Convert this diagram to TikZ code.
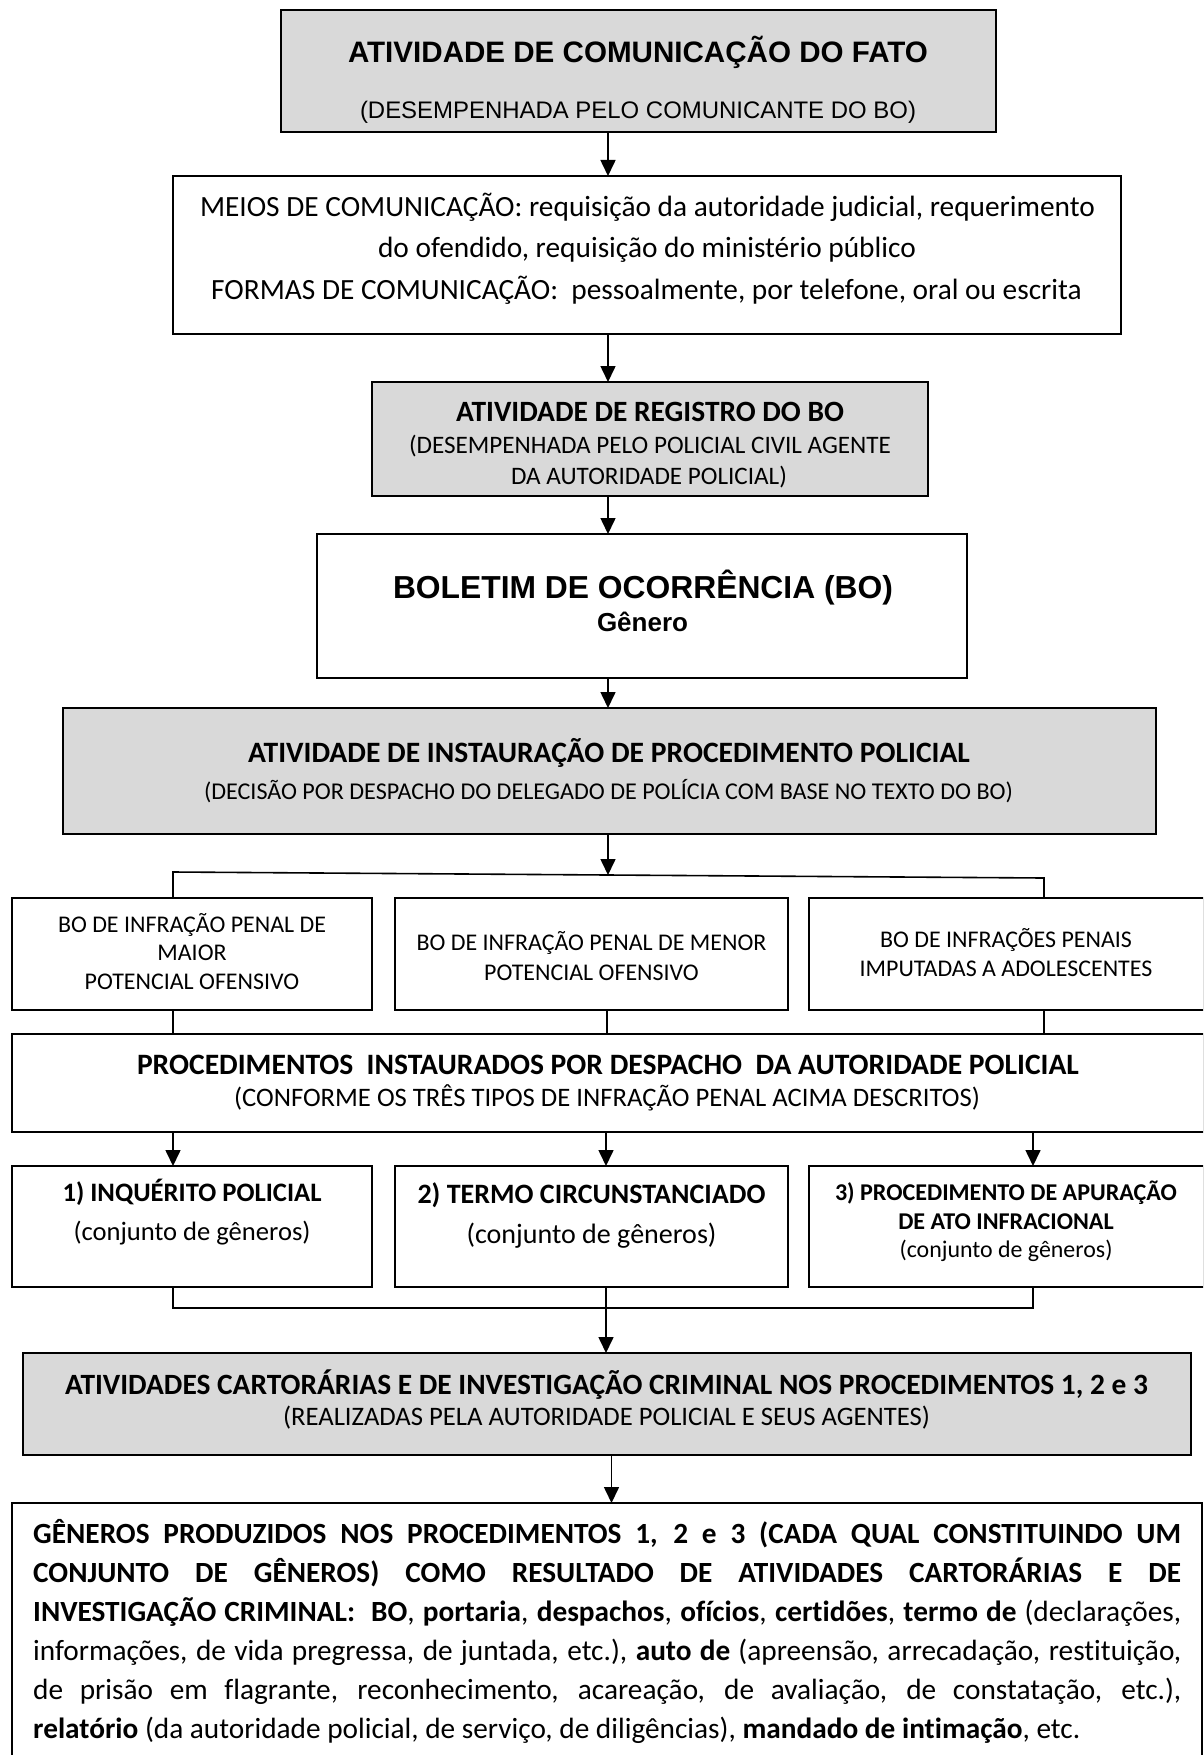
\documentclass[tikz,border=0pt]{standalone}
\usepackage{fontspec}
\setmainfont{Carlito}[RawFeature={-liga}]
\newfontfamily\arialfont{Liberation Sans}[RawFeature={-liga}]
\usetikzlibrary{arrows.meta}
\definecolor{boxgray}{RGB}{217,217,217}

% \sizefor{\name}{width}{font switches}{text}:
% stores in \name the font size (pt) at which the text is set over the given width
\newlength\measuredw
\newcommand\sizefor[4]{%
  \settowidth\measuredw{\fontsize{10pt}{12pt}\selectfont#3#4}%
  \pgfmathsetmacro#1{10*#2/\measuredw}%
  \global\let#1#1}
\newcommand\atsize[1]{\fontsize{#1pt}{#1pt}\selectfont}

\begin{document}
% font sizes from the widths of the printed lines
\sizefor\fzA{580}{\arialfont\bfseries}{ATIVIDADE DE COMUNICAÇÃO DO FATO}
\sizefor\fzB{556}{\arialfont}{(DESEMPENHADA PELO COMUNICANTE DO BO)}
\sizefor\fzC{895}{}{MEIOS DE COMUNICAÇÃO: requisição da autoridade judicial, requerimento}
\sizefor\fzD{388}{\bfseries}{ATIVIDADE DE REGISTRO DO BO}
\sizefor\fzE{482}{}{(DESEMPENHADA PELO POLICIAL CIVIL AGENTE}
\sizefor\fzF{500}{\arialfont\bfseries}{BOLETIM DE OCORRÊNCIA (BO)}
\sizefor\fzFF{91}{\arialfont\bfseries}{Gênero}
\sizefor\fzG{722}{\bfseries}{ATIVIDADE DE INSTAURAÇÃO DE PROCEDIMENTO POLICIAL}
\sizefor\fzH{809}{}{(DECISÃO POR DESPACHO DO DELEGADO DE POLÍCIA COM BASE NO TEXTO DO BO)}
\sizefor\fzI{268}{}{BO DE INFRAÇÃO PENAL DE}
\sizefor\fzJ{942}{\bfseries}{PROCEDIMENTOS\ \ INSTAURADOS POR DESPACHO\ \ DA AUTORIDADE POLICIAL}
\sizefor\fzK{746}{}{(CONFORME OS TRÊS TIPOS DE INFRAÇÃO PENAL ACIMA DESCRITOS)}
\sizefor\fzL{259}{\bfseries}{1) INQUÉRITO POLICIAL}
\sizefor\fzM{237}{}{(conjunto de gêneros)}
\sizefor\fzN{348}{\bfseries}{2) TERMO CIRCUNSTANCIADO}
\sizefor\fzO{250}{}{(conjunto de gêneros)}
\sizefor\fzP{342}{\bfseries}{3) PROCEDIMENTO DE APURAÇÃO}
\sizefor\fzQ{213}{}{(conjunto de gêneros)}
\sizefor\fzR{1083}{\bfseries}{ATIVIDADES CARTORÁRIAS E DE INVESTIGAÇÃO CRIMINAL NOS PROCEDIMENTOS 1, 2 e 3}
\sizefor\fzS{647}{}{(REALIZADAS PELA AUTORIDADE POLICIAL E SEUS AGENTES)}
\sizefor\fzT{1047}{}{\textbf{relatório} (da autoridade policial, de serviço, de diligências), \textbf{mandado de intimação}, etc.}
\begin{tikzpicture}[x=1pt,y=-1pt,
  box/.style={draw, line width=2.2pt, anchor=north west, inner sep=0pt, outer sep=0pt},
  graybox/.style={box, fill=boxgray},
  lbl/.style={inner sep=0pt, anchor=base},
  con/.style={line width=1.6pt},
  arr/.style={line width=1.6pt, -{Triangle[width=15pt,length=16pt]}}]

\useasboundingbox (0,0) rectangle (1203,1755);
\clip (0,0) rectangle (1203,1755);

% ---------------- boxes ----------------
\node[graybox, minimum width=715pt,  minimum height=122pt] (b1)  at (281,10)   {};
\node[box,     minimum width=948pt,  minimum height=158pt] (b2)  at (173,176)  {};
\node[graybox, minimum width=556pt,  minimum height=114pt] (b3)  at (372,382)  {};
\node[box,     minimum width=650pt,  minimum height=144pt] (b4)  at (317,534)  {};
\node[graybox, minimum width=1093pt, minimum height=126pt] (b5)  at (63,708)   {};
\node[box,     minimum width=360pt,  minimum height=112pt] (r1a) at (12,898)   {};
\node[box,     minimum width=393pt,  minimum height=112pt] (r1b) at (395,898)  {};
\node[box,     minimum width=395pt,  minimum height=112pt] (r1c) at (809,898)  {};
\node[box,     minimum width=1192pt, minimum height=98pt]  (b6)  at (12,1034)  {};
\node[box,     minimum width=360pt,  minimum height=121pt] (r2a) at (12,1166)  {};
\node[box,     minimum width=393pt,  minimum height=121pt] (r2b) at (395,1166) {};
\node[box,     minimum width=395pt,  minimum height=121pt] (r2c) at (809,1166) {};
\node[graybox, minimum width=1168pt, minimum height=102pt] (b7)  at (23,1353)  {};
\node[box,     minimum width=1190pt, minimum height=270pt] (b8)  at (12,1503)  {};

% ---------------- texts ----------------
\node[lbl] (t1a) at (638,{52+0.36*\fzA}) {\arialfont\bfseries\atsize\fzA ATIVIDADE DE COMUNICAÇÃO DO FATO};
\node[lbl] (t1b) at (638,{110+0.36*\fzB}) {\arialfont\atsize\fzB (DESEMPENHADA PELO COMUNICANTE DO BO)};

\node[lbl] (t2a) at (647.5,{207+0.32*\fzC}) {\atsize\fzC MEIOS DE COMUNICAÇÃO: requisição da autoridade judicial, requerimento};
\node[lbl] (t2b) at (647,{248+0.32*\fzC}) {\atsize\fzC do ofendido, requisição do ministério público};
\node[lbl] (t2c) at (646.5,{290+0.32*\fzC}) {\atsize\fzC FORMAS DE COMUNICAÇÃO:\ \ pessoalmente, por telefone, oral ou escrita};

\node[lbl] (t3a) at (650,{412+0.32*\fzD}) {\bfseries\atsize\fzD ATIVIDADE DE REGISTRO DO BO};
\node[lbl] (t3b) at (650,{445+0.32*\fzE}) {\atsize\fzE (DESEMPENHADA PELO POLICIAL CIVIL AGENTE};
\node[lbl] (t3c) at (649,{476+0.32*\fzE}) {\atsize\fzE DA AUTORIDADE POLICIAL)};

\node[lbl] (t4a) at (643,{587+0.36*\fzF}) {\arialfont\bfseries\atsize\fzF BOLETIM DE OCORRÊNCIA (BO)};
\node[lbl] (t4b) at (642.5,{622+0.36*\fzFF}) {\arialfont\bfseries\atsize\fzFF Gênero};

\node[lbl] (t5a) at (609,{753+0.32*\fzG}) {\bfseries\atsize\fzG ATIVIDADE DE INSTAURAÇÃO DE PROCEDIMENTO POLICIAL};
\node[lbl] (t5b) at (608.5,{792+0.32*\fzH}) {\atsize\fzH (DECISÃO POR DESPACHO DO DELEGADO DE POLÍCIA COM BASE NO TEXTO DO BO)};

\node[lbl] (ta1) at (192,{925+0.32*\fzI}) {\atsize\fzI BO DE INFRAÇÃO PENAL DE};
\node[lbl] (ta2) at (192,{953+0.32*\fzI}) {\atsize\fzI MAIOR};
\node[lbl] (ta3) at (192,{982+0.32*\fzI}) {\atsize\fzI POTENCIAL OFENSIVO};
\node[lbl] (tb1) at (591.5,{943+0.32*\fzI}) {\atsize\fzI BO DE INFRAÇÃO PENAL DE MENOR};
\node[lbl] (tb2) at (591.5,{973+0.32*\fzI}) {\atsize\fzI POTENCIAL OFENSIVO};
\node[lbl] (tc1) at (1006,{940+0.32*\fzI}) {\atsize\fzI BO DE INFRAÇÕES PENAIS};
\node[lbl] (tc2) at (1006,{969+0.32*\fzI}) {\atsize\fzI IMPUTADAS A ADOLESCENTES};

\node[lbl] (t6a) at (608,{1065+0.32*\fzJ}) {\bfseries\atsize\fzJ PROCEDIMENTOS\ \ INSTAURADOS POR DESPACHO\ \ DA AUTORIDADE POLICIAL};
\node[lbl] (t6b) at (607,{1098+0.32*\fzK}) {\atsize\fzK (CONFORME OS TRÊS TIPOS DE INFRAÇÃO PENAL ACIMA DESCRITOS)};

\node[lbl] (ua1) at (192,{1193+0.32*\fzL}) {\bfseries\atsize\fzL 1) INQUÉRITO POLICIAL};
\node[lbl] (ua2) at (192,{1232+0.32*\fzM}) {\atsize\fzM (conjunto de gêneros)};
\node[lbl] (ub1) at (591.5,{1195+0.32*\fzN}) {\bfseries\atsize\fzN 2) TERMO CIRCUNSTANCIADO};
\node[lbl] (ub2) at (591.5,{1235+0.32*\fzO}) {\atsize\fzO (conjunto de gêneros)};
\node[lbl] (uc1) at (1006,{1193+0.32*\fzP}) {\bfseries\atsize\fzP 3) PROCEDIMENTO DE APURAÇÃO};
\node[lbl] (uc2) at (1006,{1222+0.32*\fzP}) {\bfseries\atsize\fzP DE ATO INFRACIONAL};
\node[lbl] (uc3) at (1006,{1250+0.32*\fzQ}) {\atsize\fzQ (conjunto de gêneros)};

\node[lbl] (t7a) at (606.5,{1385+0.32*\fzR}) {\bfseries\atsize\fzR ATIVIDADES CARTORÁRIAS E DE INVESTIGAÇÃO CRIMINAL NOS PROCEDIMENTOS 1, 2 e 3};
\node[lbl] (t7b) at (606.5,{1417+0.32*\fzS}) {\atsize\fzS (REALIZADAS PELA AUTORIDADE POLICIAL E SEUS AGENTES)};

% justified paragraph of the last box, one line per node
\node[lbl, anchor=base west] (g1) at (33,{1534+0.32*\fzT}) {\atsize\fzT\makebox[1148pt][s]{\bfseries GÊNEROS PRODUZIDOS NOS PROCEDIMENTOS 1, 2 e 3 (CADA QUAL CONSTITUINDO UM}};
\node[lbl, anchor=base west] (g2) at (33,{1573+0.32*\fzT}) {\atsize\fzT\makebox[1148pt][s]{\bfseries CONJUNTO DE GÊNEROS) COMO RESULTADO DE ATIVIDADES CARTORÁRIAS E DE}};
\node[lbl, anchor=base west] (g3) at (33,{1612+0.32*\fzT}) {\atsize\fzT\makebox[1148pt][s]{\textbf{INVESTIGAÇÃO CRIMINAL:\ \ BO}, \textbf{portaria}, \textbf{despachos}, \textbf{ofícios}, \textbf{certidões}, \textbf{termo de} (declarações,}};
\node[lbl, anchor=base west] (g4) at (33,{1651+0.32*\fzT}) {\atsize\fzT\makebox[1148pt][s]{informações, de vida pregressa, de juntada, etc.), \textbf{auto de} (apreensão, arrecadação, restituição,}};
\node[lbl, anchor=base west] (g5) at (33,{1690+0.32*\fzT}) {\atsize\fzT\makebox[1148pt][s]{de prisão em flagrante, reconhecimento, acareação, de avaliação, de constatação, etc.),}};
\node[lbl, anchor=base west] (g6) at (33,{1729+0.32*\fzT}) {\atsize\fzT \textbf{relatório} (da autoridade policial, de serviço, de diligências), \textbf{mandado de intimação}, etc.};

% ---------------- connectors ----------------
\coordinate (ax) at (608,0);
\coordinate (xa) at (173,0);
\coordinate (xb) at (607,0);
\coordinate (xc) at (1044,0);
\coordinate (ya) at (173,0);
\coordinate (yb) at (606,0);
\coordinate (yc) at (1033,0);
\coordinate (zx) at (611.5,0);
\coordinate (brL) at (173,872);
\coordinate (brM) at (608,875);
\coordinate (brR) at (1044,878);
\coordinate (joinL) at (173,1308);
\coordinate (joinM) at (606,1308);
\coordinate (joinR) at (1033,1308);

\draw[arr] (b1.south -| ax) -- (b2.north -| ax);
\draw[arr] (b2.south -| ax) -- (b3.north -| ax);
\draw[arr] (b3.south -| ax) -- (b4.north -| ax);
\draw[arr] (b4.south -| ax) -- (b5.north -| ax);
\draw[arr] (b5.south -| ax) -- (brM);

\draw[con] (r1a.north -| brL) -- (brL) -- (brM) -- (brR) -- (r1c.north -| brR);

\draw[con] (r1a.south -| xa) -- (b6.north -| xa);
\draw[con] (r1b.south -| xb) -- (b6.north -| xb);
\draw[con] (r1c.south -| xc) -- (b6.north -| xc);

\draw[arr] (b6.south -| ya) -- (r2a.north -| ya);
\draw[arr] (b6.south -| yb) -- (r2b.north -| yb);
\draw[arr] (b6.south -| yc) -- (r2c.north -| yc);

\draw[con] (r2a.south -| ya) -- (joinL) -- (joinR) -- (r2c.south -| yc);
\draw[con] (r2b.south -| yb) -- (joinM);
\draw[arr] (joinM) -- (b7.north -| yb);

\draw[arr] (b7.south -| zx) -- (b8.north -| zx);
\end{tikzpicture}
\end{document}
